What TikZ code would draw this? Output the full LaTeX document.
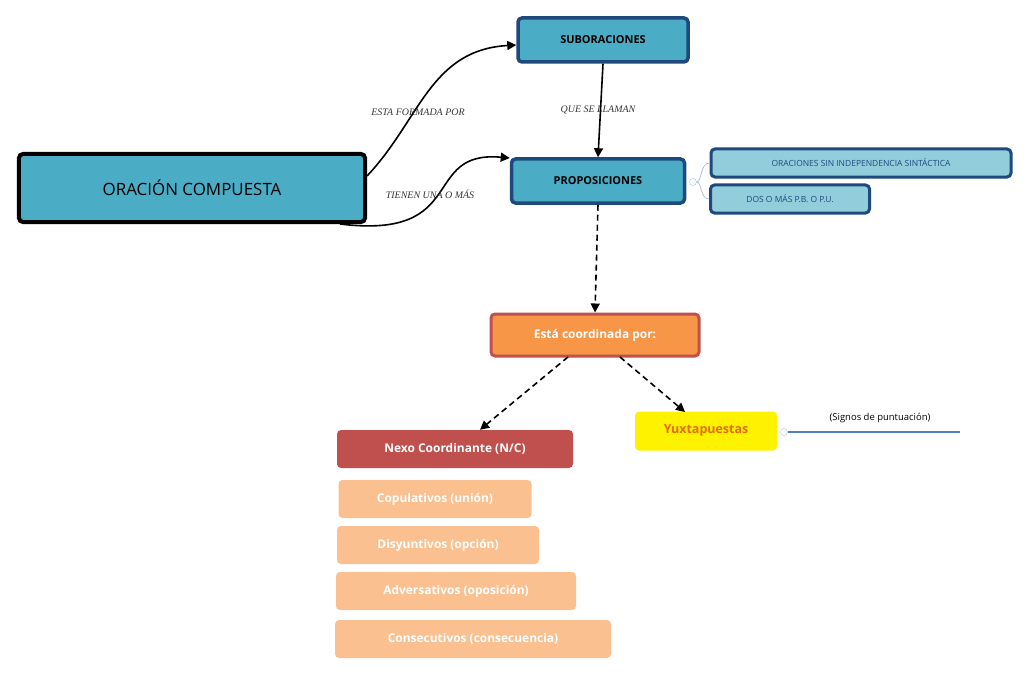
\documentclass[tikz,border=0pt]{standalone}
\usepackage{fontspec}
\setmainfont{Open Sans}
\newfontfamily\lab{Liberation Serif}
\usetikzlibrary{arrows.meta}
\definecolor{teal1}{HTML}{4BACC6}
\definecolor{lteal}{HTML}{92CDDC}
\definecolor{dblue}{HTML}{1F497D}
\definecolor{orng}{HTML}{F79646}
\definecolor{dred}{HTML}{C0504D}
\definecolor{peach}{HTML}{FAC090}
\definecolor{yorng}{HTML}{E36C09}
\definecolor{lblue}{HTML}{4F81BD}
\begin{document}
\begin{tikzpicture}[x=1bp,y=-1bp,
  box/.style={draw, rounded corners=4bp, inner sep=0, align=center},
  conn/.style={line width=1.6bp, -{Triangle[length=9bp,width=9bp]}},
  dconn/.style={conn, dash pattern=on 6bp off 4bp},
  lbl/.style={font=\lab\itshape\fontsize{10}{12}\selectfont, text=black!80},
  sub/.style={box, fill=peach, draw=none, minimum height=38bp, text=white, font=\bfseries\fontsize{12}{14}\selectfont}]
\useasboundingbox (0,0) rectangle (1030,675);
\node[box, line width=4bp, fill=teal1, minimum width=346bp, minimum height=68bp, font=\fontsize{17}{20}\selectfont] (oc) at (192,188) {ORACIÓN COMPUESTA};
\node[box, line width=3.5bp, draw=dblue, fill=teal1, minimum width=170bp, minimum height=44bp, font=\bfseries\fontsize{11}{13}\selectfont] (sub) at (603,40) {SUBORACIONES};
\node[box, line width=3.5bp, draw=dblue, fill=teal1, minimum width=173bp, minimum height=44bp, font=\bfseries\fontsize{11}{13}\selectfont] (prop) at (598,181) {PROPOSICIONES};
\node[box, line width=3bp, draw=dblue, fill=lteal, minimum width=300bp, minimum height=28bp, text=dblue, font=\fontsize{8.5}{10}\selectfont] (osi) at (861,163) {ORACIONES SIN INDEPENDENCIA SINTÁCTICA};
\node[box, line width=3bp, draw=dblue, fill=lteal, minimum width=159bp, minimum height=28bp, text=dblue, font=\fontsize{8.5}{10}\selectfont] (dos) at (790,199) {DOS O MÁS P.B. O P.U.};
\node[box, line width=3bp, draw=dred, fill=orng, minimum width=208bp, minimum height=42bp, text=white, font=\bfseries\fontsize{12}{14}\selectfont] (est) at (595,335) {Está coordinada por:};
\node[box, draw=none, fill=yellow, minimum width=142bp, minimum height=39bp, text=yorng, font=\bfseries\fontsize{12.5}{14}\selectfont] (yux) at (706,431) {Yuxtapuestas};
\node[box, draw=none, fill=dred, minimum width=236bp, minimum height=38bp, text=white, font=\bfseries\fontsize{12}{14}\selectfont] (nexo) at (455,449) {Nexo Coordinante (N/C)};
\node[sub, minimum width=193bp] (cop) at (435,499) {Copulativos (unión)};
\node[sub, minimum width=202bp] (dis) at (438,545) {Disyuntivos (opción)};
\node[sub, minimum width=240bp] (adv) at (456,591) {Adversativos (oposición)};
\node[sub, minimum width=276bp] (con) at (473,639) {Consecutivos (consecuencia)};
% connectors
\draw[conn] (oc.east |- 0,176) .. controls (420,120) and (430,50) .. (sub.west |- 0,45) node[lbl, pos=0.5, above=2bp] {};
\node[lbl] (l1) at (418,112) {ESTA FORMADA POR};
\draw[conn] (340,224) .. controls (470,240) and (420,150) .. (prop.west |- 0,158);
\node[lbl] (l2) at (430,194) {TIENEN UNA O MÁS};
\draw[conn] (sub.south) -- (prop.north);
\node[lbl] (l3) at (598,110) {QUE SE LLAMAN};
\draw[dconn] (prop.south) -- (est.north);
\draw[dconn] (568,357) -- (nexo.north east -| 480,0);
\coordinate (ya) at (685,412);
\draw[dconn] (620,357) -- (ya);
% side branches
\node[circle, draw=lblue!50, inner sep=0, minimum size=7bp] (c1) at (693,182) {};
\draw[lblue!60, line width=0.6bp] (c1.east) .. controls (702,182) and (700,163) .. (osi.west);
\draw[lblue!60, line width=0.6bp] (c1.east) .. controls (702,182) and (700,199) .. (dos.west);
\node[circle, draw=lblue!50, inner sep=0, minimum size=7bp] (c2) at (784,432) {};
\coordinate (le) at (960,432);
\draw[lblue, line width=2bp] (c2.east) -- (le);
\node[font=\fontsize{9.5}{11}\selectfont] (sg) at (880,418) {(Signos de puntuación)};
\end{tikzpicture}
\end{document}
